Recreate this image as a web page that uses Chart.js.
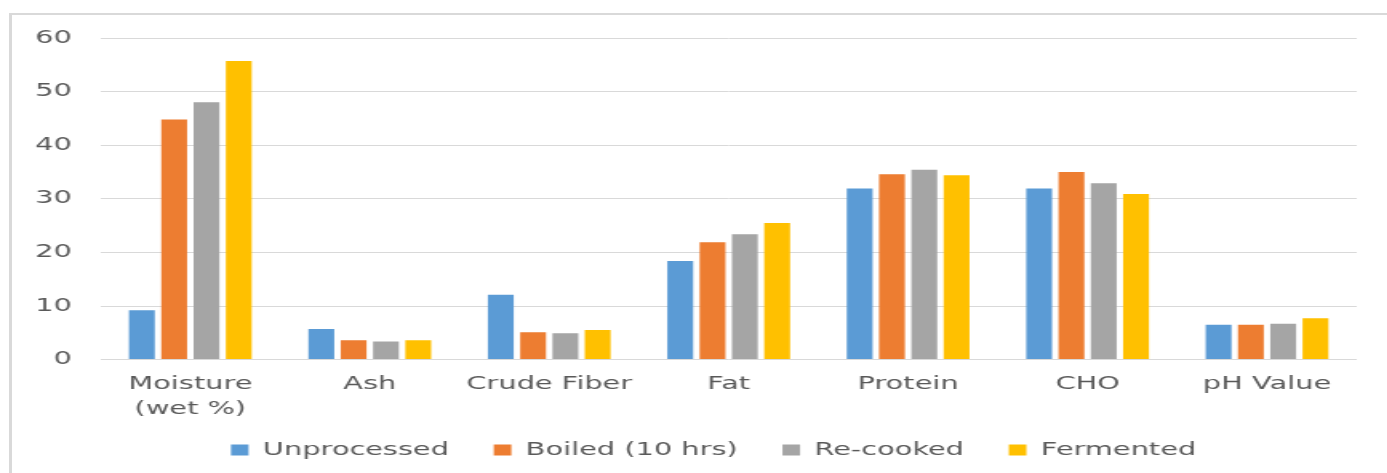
<!DOCTYPE html>
<html>
<head>
<meta charset="utf-8">
<title>Proximate composition</title>
<script src="https://cdn.jsdelivr.net/npm/chart.js@4.4.1/dist/chart.umd.min.js"></script>
<style>
    html, body { margin: 0; padding: 0; background: #fff; overflow: hidden; }
    body { width: 1387px; height: 473px; position: relative; }
    /* 原图整体被横向拉伸，这里用 scaleX 复现 */
    #wrap {
        position: absolute; left: 0; top: 0;
        width: 867px; height: 473px;
        transform: scaleX(1.6); transform-origin: 0 0;
    }
    #frame {
        position: absolute; left: 9px; top: 13px; right: -10px; bottom: -10px;
        border-left: 3px solid #d9d9d9; border-top: 2px solid #d9d9d9;
        pointer-events: none;
    }
</style>
</head>
<body>
<div id="wrap"><canvas id="compositionChart"></canvas></div>
<div id="frame"></div>
<script>
// 数据
const categories = [['Moisture', '(wet %)'], 'Ash', 'Crude Fiber', 'Fat', 'Protein', 'CHO', 'pH Value'];
const seriesNames = ['Unprocessed', 'Boiled (10 hrs)', 'Re-cooked', 'Fermented'];
const unprocessed = [9.2, 5.7, 12.1, 18.4, 31.9, 31.9, 6.5];
const boiled = [44.8, 3.6, 5.1, 21.9, 34.6, 35.0, 6.5];
const recooked = [48.0, 3.4, 4.9, 23.4, 35.4, 32.9, 6.7];
const fermented = [55.7, 3.6, 5.5, 25.5, 34.4, 30.9, 7.7];
const yTicks = [0, 10, 20, 30, 40, 50, 60];

// Office 配色
const COLORS = {
    blue: '#5b9bd5',
    orange: '#ed7d31',
    gray: '#a5a5a5',
    gold: '#ffc000',
    text: '#595959',
    grid: '#d9d9d9'
};

const FONT = { family: '"DejaVu Sans", sans-serif', size: 18 };

// 图例位置微调（图例的 padding 同时控制横向间距和纵向高度）
const LEGEND_SHIFT_Y = 21;
const LEGEND_SHIFT_X = 20;
const legendShift = {
    id: 'legendShift',
    afterLayout(chart) {
        const legend = chart.legend;
        if (legend) {
            legend.top -= LEGEND_SHIFT_Y;
            legend.bottom -= LEGEND_SHIFT_Y;
            legend.left += LEGEND_SHIFT_X;
            legend.right += LEGEND_SHIFT_X;
        }
    }
};

function renderCompositionChart() {
    const ctx = document.getElementById('compositionChart');
    if (!ctx) {
        console.error('Canvas element not found: compositionChart');
        return null;
    }

    const values = [unprocessed, boiled, recooked, fermented];
    const fills = [COLORS.blue, COLORS.orange, COLORS.gray, COLORS.gold];

    return new Chart(ctx, {
        type: 'bar',
        data: {
            labels: categories,
            datasets: seriesNames.map((name, i) => ({
                label: name,
                data: values[i],
                backgroundColor: fills[i],
                borderWidth: 0,
                barPercentage: 0.8,
                categoryPercentage: 0.72
            }))
        },
        plugins: [legendShift],
        options: {
            responsive: true,
            maintainAspectRatio: false,
            animation: false,
            layout: {
                padding: { left: 4, right: 19, top: 38, bottom: -17 }
            },
            plugins: {
                title: { display: false },
                tooltip: { enabled: false },
                legend: {
                    display: true,
                    position: 'bottom',
                    labels: {
                        boxWidth: 11,
                        boxHeight: 11,
                        padding: 28,
                        color: COLORS.text,
                        font: FONT
                    }
                }
            },
            scales: {
                x: {
                    grid: { display: false, drawTicks: false },
                    border: { display: false },
                    ticks: {
                        color: COLORS.text,
                        font: { family: FONT.family, size: 18, lineHeight: 1.4 },
                        padding: 12,
                        maxRotation: 0,
                        autoSkip: false
                    }
                },
                y: {
                    min: 0,
                    max: 60,
                    afterBuildTicks: (axis) => {
                        axis.ticks = yTicks.map(v => ({ value: v }));
                    },
                    grid: {
                        color: COLORS.grid,
                        lineWidth: 1,
                        drawTicks: false
                    },
                    border: { display: false },
                    ticks: {
                        color: COLORS.text,
                        font: FONT,
                        padding: 18
                    }
                }
            }
        }
    });
}

document.addEventListener('DOMContentLoaded', function() {
    try {
        renderCompositionChart();
    } catch (error) {
        console.error('渲染图表失败:', error);
    }
});
</script>
</body>
</html>
